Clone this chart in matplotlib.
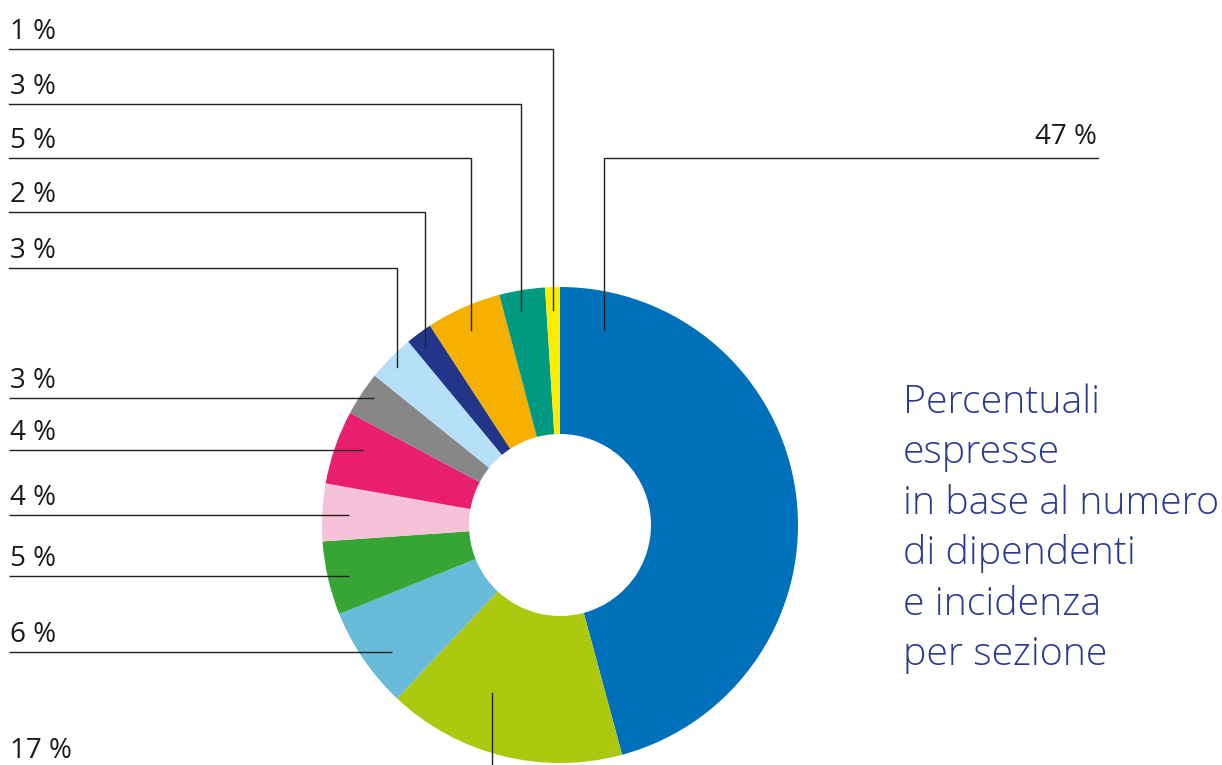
import matplotlib
matplotlib.use('Agg')
import matplotlib.pyplot as plt
import numpy as np

# ---- data (clockwise from 12 o'clock) ----
labels = ['47 %', '17 %', '6 %', '5 %', '4 %', '4 %', '3 %', '3 %', '2 %', '5 %', '3 %', '1 %']
shares = [45.8, 16.2, 6.9, 5.0, 3.9, 5.0, 3.0, 3.2, 1.8, 5.1, 3.1, 1.0]
colors = ['#0070BA', '#ACC90F', '#69BCD9', '#36A536', '#F6C2D7', '#E81E6E',
          '#878787', '#B6E0F7', '#233588', '#F5B000', '#009A82', '#FFED00']
note_lines = ['Percentuali', 'espresse', 'in base al numero',
              'di dipendenti', 'e incidenza', 'per sezione']

# ---- layout (pixel space, y down) ----
W, H = 1222, 765
CX, CY, R_OUT, R_IN = 560, 525, 238, 91
# (fraction inside wedge, anchor radius, kind, elbow y)
leader = [
    (0.077, 200, 'right', 158),
    (0.64, 181, 'down', None),
    (0.39, 211, 'left', None),
    (0.46, 217, 'left', None),
    (0.47, 211, 'left', None),
    (0.60, 211, 'left', None),
    (0.57, 225, 'left', None),
    (0.45, 227, 'up', 268),
    (0.37, 223, 'up', 212),
    (0.47, 214, 'up', 158),
    (0.40, 217, 'up', 104),
    (0.50, 215, 'up', 49),
]

plt.rcParams['font.family'] = ['Open Sans', 'DejaVu Sans']
fig = plt.figure(figsize=(W / 100, H / 100), dpi=100)
ax = fig.add_axes([0, 0, 1, 1])

wedges, _ = ax.pie(shares, colors=colors, startangle=-90, counterclock=True,
                   center=(CX, CY), radius=R_OUT,
                   wedgeprops=dict(width=R_OUT - R_IN, linewidth=0))
ax.set_xlim(0, W)
ax.set_ylim(H, 0)
ax.set_aspect('auto')
ax.axis('off')

LC = '#222222'
TC = '#1a1a1a'
LX = 9
for w, lab, (fr, r, kind, ey) in zip(wedges, labels, leader):
    th = np.deg2rad(w.theta1 + fr * (w.theta2 - w.theta1))
    ax_, ay_ = CX + r * np.cos(th), CY + r * np.sin(th)
    if kind == 'left':
        ax.plot([ax_, LX], [ay_, ay_], color=LC, lw=1.0, solid_capstyle='butt')
        ax.text(10, ay_ - 10, lab, fontsize=20, color=TC, va='baseline', ha='left')
    elif kind == 'up':
        ax.plot([ax_, ax_, LX], [ay_, ey, ey], color=LC, lw=1.0, solid_joinstyle='miter')
        ax.text(10, ey - 10, lab, fontsize=20, color=TC, va='baseline', ha='left')
    elif kind == 'right':
        ax.plot([ax_, ax_, 1098], [ay_, ey, ey], color=LC, lw=1.0, solid_joinstyle='miter')
        ax.text(1097, ey - 14, lab, fontsize=20, color=TC, va='baseline', ha='right')
    elif kind == 'down':
        ax.plot([ax_, ax_], [ay_, H + 5], color=LC, lw=1.0, clip_on=True)
        ax.text(10, 758, lab, fontsize=20, color=TC, va='baseline', ha='left')

for i, line in enumerate(note_lines):
    ax.text(903, 413 + 50.4 * i, line, fontsize=28.3, color='#2B3A8F',
            va='baseline', ha='left', fontweight='light')

fig.savefig('out.png', dpi=100)
